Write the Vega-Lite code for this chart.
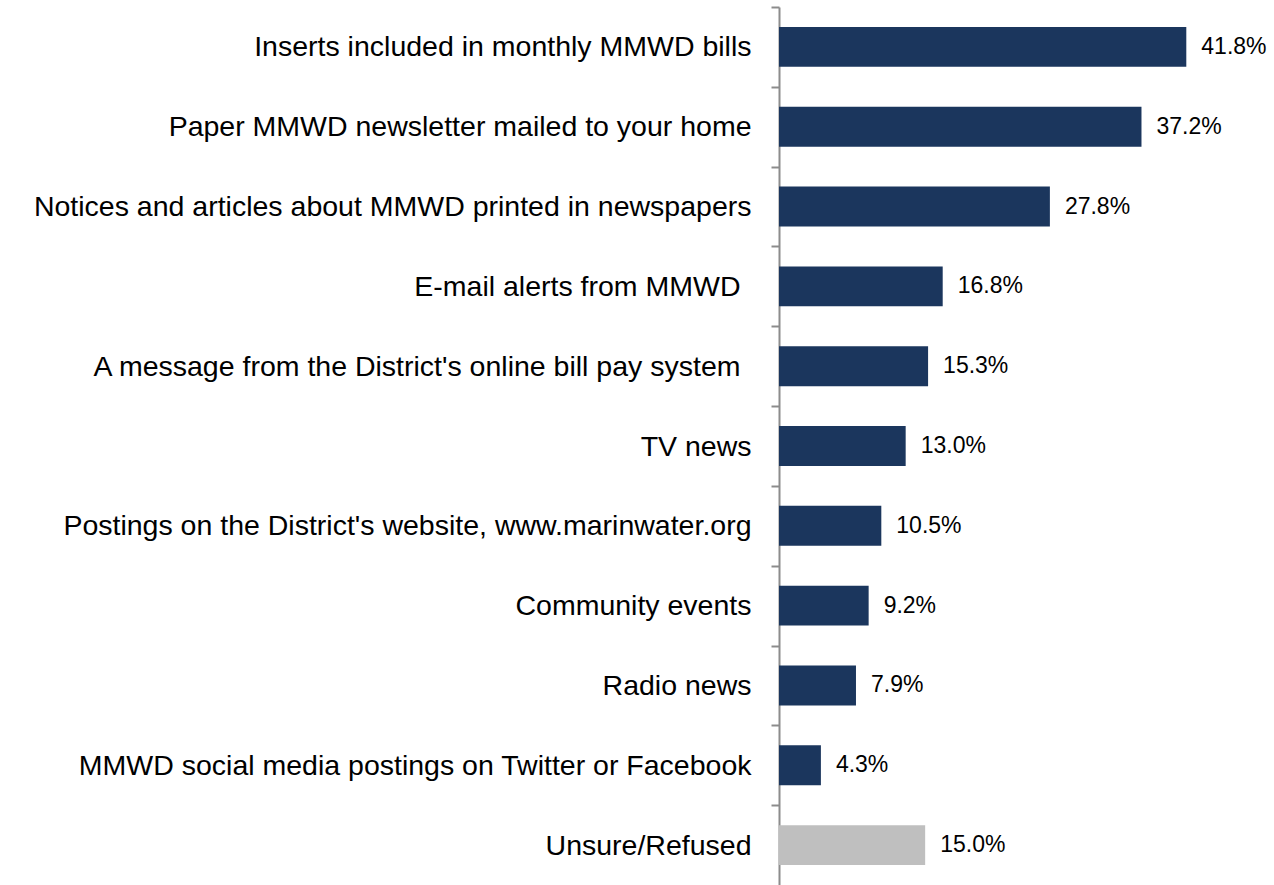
{
  "$schema": "https://vega.github.io/schema/vega-lite/v6.json",
  "width": 495,
  "height": 878,
  "autosize": {"type": "none"},
  "padding": {"left": 779, "top": 7, "right": 0, "bottom": 0},
  "background": "white",
  "config": {"view": {"stroke": null}},
  "data": {
    "values": [
      {"label": "Inserts included in monthly MMWD bills", "pct": 0.418, "group": "main"},
      {"label": "Paper MMWD newsletter mailed to your home", "pct": 0.372, "group": "main"},
      {"label": "Notices and articles about MMWD printed in newspapers", "pct": 0.278, "group": "main"},
      {"label": "E-mail alerts from MMWD", "pct": 0.168, "group": "main"},
      {"label": "A message from the District's online bill pay system", "pct": 0.153, "group": "main"},
      {"label": "TV news", "pct": 0.130, "group": "main"},
      {"label": "Postings on the District's website, www.marinwater.org", "pct": 0.105, "group": "main"},
      {"label": "Community events", "pct": 0.092, "group": "main"},
      {"label": "Radio news", "pct": 0.079, "group": "main"},
      {"label": "MMWD social media postings on Twitter or Facebook", "pct": 0.043, "group": "main"},
      {"label": "Unsure/Refused", "pct": 0.150, "group": "unsure"}
    ]
  },
  "encoding": {
    "y": {
      "field": "label",
      "type": "nominal",
      "sort": null,
      "scale": {"paddingInner": 0.5, "paddingOuter": 0.25},
      "axis": {
        "title": null,
        "grid": false,
        "tickOffset": -39.9,
        "labelOffset": 39.9,
        "tickExtra": true,
        "domainColor": "#8c8c8c",
        "domainWidth": 2,
        "tickColor": "#8c8c8c",
        "tickWidth": 2,
        "tickSize": 8,
        "labelPadding": {
          "condition": {"test": "datum.value === 'E-mail alerts from MMWD' || datum.value === \"A message from the District's online bill pay system\"", "value": 31},
          "value": 20
        },
        "labelFont": "Liberation Sans, Arial, sans-serif",
        "labelFontSize": 28.5,
        "labelColor": "#000000",
        "labelLimit": 900
      }
    },
    "x": {
      "field": "pct",
      "type": "quantitative",
      "scale": {"domain": [0, 0.508], "nice": false},
      "axis": null
    }
  },
  "layer": [
    {
      "mark": {"type": "bar"},
      "encoding": {
        "color": {
          "field": "group",
          "type": "nominal",
          "scale": {"domain": ["main", "unsure"], "range": ["#1B365D", "#BFBFBF"]},
          "legend": null
        }
      }
    },
    {
      "mark": {
        "type": "text",
        "align": "left",
        "baseline": "middle",
        "dx": 15,
        "font": "Liberation Sans, Arial, sans-serif",
        "fontSize": 23,
        "color": "#000000"
      },
      "encoding": {
        "text": {"field": "pct", "type": "quantitative", "format": ".1%"}
      }
    }
  ]
}
